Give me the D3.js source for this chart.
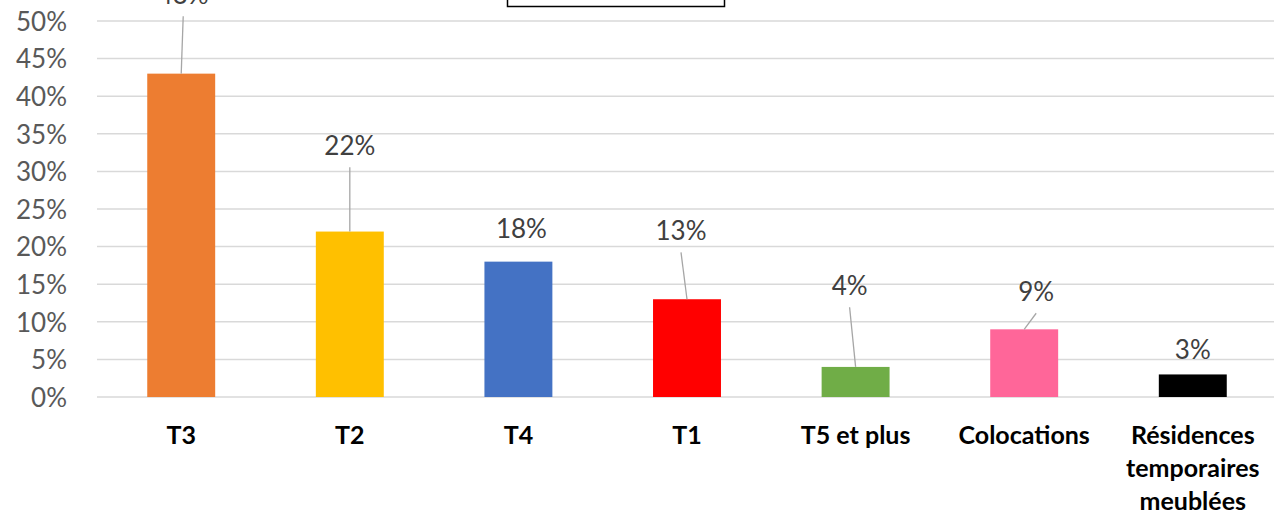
<!DOCTYPE html>
<html><head><meta charset="utf-8">
<script src="https://cdn.jsdelivr.net/npm/d3@7"></script>
<style>body{margin:0;background:#fff;overflow:hidden}svg{display:block}</style>
</head><body>
<svg id="c" width="1274" height="519"></svg>
<script>
const categories = ["T3","T2","T4","T1","T5 et plus","Colocations","Résidences temporaires meublées"];
const categoryLines = [["T3"],["T2"],["T4"],["T1"],["T5 et plus"],["Colocations"],["Résidences","temporaires","meublées"]];
const values = [43,22,18,13,4,9,3];
const colors = ["#ED7D31","#FFC000","#4472C4","#FF0000","#70AD47","#FF6699","#000000"];
const yTicks = [0,5,10,15,20,25,30,35,40,45,50];
// label placement (layout): label baseline level (in % units) and horizontal offset from bar centre (px)
const labelLevel = [52.3,32.2,21.1,20.9,13.6,12.8,5.05];
const labelDx = [2,0,3,-6,-6,12,0];
const leader = [true,true,false,true,true,true,false];

const svg = d3.select("#c");
const W=1274;
const FONT = "Lato, 'Open Sans', sans-serif";
const x = d3.scaleBand().domain(categories).range([97,1277]).paddingInner(0.597).paddingOuter(0.298);
const y = d3.scaleLinear().domain([0,50]).range([397,21]);
const bw = x.bandwidth();
const cx = i => x(categories[i]) + bw/2;

const rows = values.map((v,i)=>({v,i}));

// gridlines
svg.append("g").selectAll("line").data(yTicks).join("line")
  .attr("x1",97).attr("x2",W).attr("y1",d=>y(d)).attr("y2",d=>y(d))
  .attr("stroke","#d9d9d9").attr("stroke-width",1.5);

// y axis
const ya = svg.append("g").attr("transform","translate(67,0)")
  .call(d3.axisLeft(y).tickValues(yTicks).tickFormat(d=>d+"%").tickSize(0).tickPadding(0));
ya.select(".domain").remove();
ya.selectAll("text").attr("font-family",FONT).attr("font-size",26).attr("fill","#595959").attr("dy","0.36em");

// bars
svg.append("g").selectAll("rect").data(rows).join("rect")
  .attr("x",d=>x(categories[d.i])).attr("width",bw)
  .attr("y",d=>y(d.v)).attr("height",d=>y(0)-y(d.v))
  .attr("fill",d=>colors[d.i]);

// leader lines
svg.append("g").selectAll("line").data(rows.filter(d=>leader[d.i])).join("line")
  .attr("x1",d=>cx(d.i)+labelDx[d.i])
  .attr("y1",d=>y(labelLevel[d.i])+12.5)
  .attr("x2",d=>cx(d.i))
  .attr("y2",d=>y(d.v))
  .attr("stroke","#a6a6a6").attr("stroke-width",1.3);

// value labels
svg.append("g").selectAll("text").data(rows).join("text")
  .attr("x",d=>cx(d.i)+labelDx[d.i])
  .attr("y",d=>y(labelLevel[d.i]))
  .attr("text-anchor","middle")
  .attr("font-family",FONT).attr("font-size",26).attr("fill","#404040")
  .text(d=>d.v+"%");

// category labels
const xa = svg.append("g");
categoryLines.forEach((lines,i)=>{
  const t = xa.append("text").attr("x",cx(i)).attr("y",444)
    .attr("text-anchor","middle").attr("font-family",FONT)
    .attr("font-weight","bold").attr("font-size",25).attr("fill","#000");
  lines.forEach((l,j)=>t.append("tspan").attr("x",cx(i)).attr("dy",j?33:0).text(l));
});

// title box (cut off at top)
svg.append("rect").attr("x",507.5).attr("y",-20).attr("width",217).attr("height",26.5)
  .attr("fill","#fff").attr("stroke","#000").attr("stroke-width",1.5);
</script>
</body></html>
